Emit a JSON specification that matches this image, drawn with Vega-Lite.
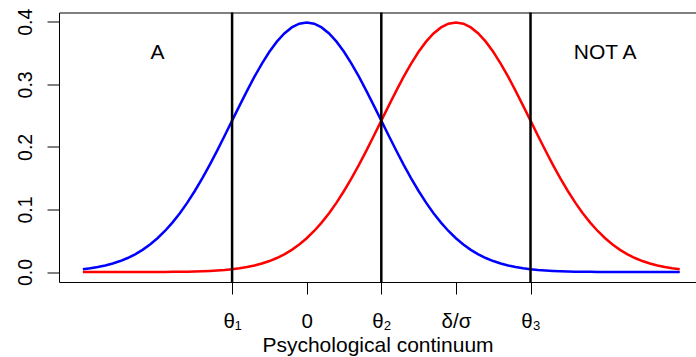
{
  "$schema": "https://vega.github.io/schema/vega-lite/v6.json",
  "autosize": {"type": "none"},
  "padding": {"left": 59, "top": 12.5, "right": 0, "bottom": 75},
  "width": 637,
  "height": 269.5,
  "background": "white",
  "config": {
    "view": {"stroke": null},
    "font": "Liberation Sans",
    "axis": {"grid": false, "domainColor": "black", "tickColor": "black", "labelColor": "black", "titleColor": "black", "labelFontWeight": "normal", "titleFontWeight": "normal"}
  },
  "datasets": {
    "curves": [
      {"x": -3.0, "a": 0.00443, "b": 0.0},
      {"x": -2.9, "a": 0.00595, "b": 0.0},
      {"x": -2.8, "a": 0.00792, "b": 0.0},
      {"x": -2.7, "a": 0.01042, "b": 0.0},
      {"x": -2.6, "a": 0.01358, "b": 0.00001},
      {"x": -2.5, "a": 0.01753, "b": 0.00002},
      {"x": -2.4, "a": 0.02239, "b": 0.00002},
      {"x": -2.3, "a": 0.02833, "b": 0.00004},
      {"x": -2.2, "a": 0.03547, "b": 0.00006},
      {"x": -2.1, "a": 0.04398, "b": 0.00009},
      {"x": -2.0, "a": 0.05399, "b": 0.00013},
      {"x": -1.9, "a": 0.06562, "b": 0.0002},
      {"x": -1.8, "a": 0.07895, "b": 0.00029},
      {"x": -1.7, "a": 0.09405, "b": 0.00042},
      {"x": -1.6, "a": 0.11092, "b": 0.00061},
      {"x": -1.5, "a": 0.12952, "b": 0.00087},
      {"x": -1.4, "a": 0.14973, "b": 0.00123},
      {"x": -1.3, "a": 0.17137, "b": 0.00172},
      {"x": -1.2, "a": 0.19419, "b": 0.00238},
      {"x": -1.1, "a": 0.21785, "b": 0.00327},
      {"x": -1.0, "a": 0.24197, "b": 0.00443},
      {"x": -0.9, "a": 0.26609, "b": 0.00595},
      {"x": -0.8, "a": 0.28969, "b": 0.00792},
      {"x": -0.7, "a": 0.31225, "b": 0.01042},
      {"x": -0.6, "a": 0.33322, "b": 0.01358},
      {"x": -0.5, "a": 0.35207, "b": 0.01753},
      {"x": -0.4, "a": 0.36827, "b": 0.02239},
      {"x": -0.3, "a": 0.38139, "b": 0.02833},
      {"x": -0.2, "a": 0.39104, "b": 0.03547},
      {"x": -0.1, "a": 0.39695, "b": 0.04398},
      {"x": 0.0, "a": 0.39894, "b": 0.05399},
      {"x": 0.1, "a": 0.39695, "b": 0.06562},
      {"x": 0.2, "a": 0.39104, "b": 0.07895},
      {"x": 0.3, "a": 0.38139, "b": 0.09405},
      {"x": 0.4, "a": 0.36827, "b": 0.11092},
      {"x": 0.5, "a": 0.35207, "b": 0.12952},
      {"x": 0.6, "a": 0.33322, "b": 0.14973},
      {"x": 0.7, "a": 0.31225, "b": 0.17137},
      {"x": 0.8, "a": 0.28969, "b": 0.19419},
      {"x": 0.9, "a": 0.26609, "b": 0.21785},
      {"x": 1.0, "a": 0.24197, "b": 0.24197},
      {"x": 1.1, "a": 0.21785, "b": 0.26609},
      {"x": 1.2, "a": 0.19419, "b": 0.28969},
      {"x": 1.3, "a": 0.17137, "b": 0.31225},
      {"x": 1.4, "a": 0.14973, "b": 0.33322},
      {"x": 1.5, "a": 0.12952, "b": 0.35207},
      {"x": 1.6, "a": 0.11092, "b": 0.36827},
      {"x": 1.7, "a": 0.09405, "b": 0.38139},
      {"x": 1.8, "a": 0.07895, "b": 0.39104},
      {"x": 1.9, "a": 0.06562, "b": 0.39695},
      {"x": 2.0, "a": 0.05399, "b": 0.39894},
      {"x": 2.1, "a": 0.04398, "b": 0.39695},
      {"x": 2.2, "a": 0.03547, "b": 0.39104},
      {"x": 2.3, "a": 0.02833, "b": 0.38139},
      {"x": 2.4, "a": 0.02239, "b": 0.36827},
      {"x": 2.5, "a": 0.01753, "b": 0.35207},
      {"x": 2.6, "a": 0.01358, "b": 0.33322},
      {"x": 2.7, "a": 0.01042, "b": 0.31225},
      {"x": 2.8, "a": 0.00792, "b": 0.28969},
      {"x": 2.9, "a": 0.00595, "b": 0.26609},
      {"x": 3.0, "a": 0.00443, "b": 0.24197},
      {"x": 3.1, "a": 0.00327, "b": 0.21785},
      {"x": 3.2, "a": 0.00238, "b": 0.19419},
      {"x": 3.3, "a": 0.00172, "b": 0.17137},
      {"x": 3.4, "a": 0.00123, "b": 0.14973},
      {"x": 3.5, "a": 0.00087, "b": 0.12952},
      {"x": 3.6, "a": 0.00061, "b": 0.11092},
      {"x": 3.7, "a": 0.00042, "b": 0.09405},
      {"x": 3.8, "a": 0.00029, "b": 0.07895},
      {"x": 3.9, "a": 0.0002, "b": 0.06562},
      {"x": 4.0, "a": 0.00013, "b": 0.05399},
      {"x": 4.1, "a": 0.00009, "b": 0.04398},
      {"x": 4.2, "a": 0.00006, "b": 0.03547},
      {"x": 4.3, "a": 0.00004, "b": 0.02833},
      {"x": 4.4, "a": 0.00002, "b": 0.02239},
      {"x": 4.5, "a": 0.00002, "b": 0.01753},
      {"x": 4.6, "a": 0.00001, "b": 0.01358},
      {"x": 4.7, "a": 0.00001, "b": 0.01042},
      {"x": 4.8, "a": 0.0, "b": 0.00792},
      {"x": 4.9, "a": 0.0, "b": 0.00595},
      {"x": 5.0, "a": 0.0, "b": 0.00443}
    ],
    "thresholds": [{"x": -1}, {"x": 1}, {"x": 3}],
    "notes": [{"x": -2, "y": 0.35, "label": "A"}, {"x": 4, "y": 0.35, "label": "NOT A"}]
  },
  "layer": [
    {
      "data": {"name": "curves"},
      "mark": {"type": "line", "color": "#0000FF", "strokeWidth": 2.5},
      "encoding": {
        "x": {"field": "x", "type": "quantitative", "scale": {"domain": [-3.32, 5.218], "nice": false, "zero": false},
          "axis": {"orient": "bottom", "values": [-1, 0, 1, 2, 3], "labelExpr": "datum.value == -1 ? 'θ₁' : datum.value == 0 ? '0' : datum.value == 1 ? 'θ₂' : datum.value == 2 ? 'δ/σ' : 'θ₃'", "tickSize": 12, "labelPadding": 17, "labelFontSize": 20.5, "labelBaseline": "top", "labelFlush": false, "title": "Psychological continuum", "titleFontSize": 21, "titlePadding": 3, "domainWidth": 1}},
        "y": {"field": "a", "type": "quantitative", "scale": {"domain": [-0.01596, 0.4149], "nice": false, "zero": false},
          "axis": {"values": [0, 0.1, 0.2, 0.3, 0.4], "format": ".1f", "labelAngle": -90, "labelAlign": "center", "labelBaseline": "bottom", "tickSize": 12, "labelPadding": 12, "labelFontSize": 19.5, "labelFlush": false, "title": null, "domainWidth": 1}}
      }
    },
    {
      "data": {"name": "curves"},
      "mark": {"type": "line", "color": "#FF0000", "strokeWidth": 2.5},
      "encoding": {
        "x": {"field": "x", "type": "quantitative", "axis": null},
        "y": {"field": "b", "type": "quantitative"}
      }
    },
    {
      "data": {"name": "thresholds"},
      "mark": {"type": "rule", "color": "black", "strokeWidth": 2.5},
      "encoding": {
        "x": {"field": "x", "type": "quantitative", "axis": {"orient": "top", "labels": false, "ticks": false, "title": null, "domain": true, "domainColor": "black", "domainWidth": 1}}
      }
    },
    {
      "data": {"name": "notes"},
      "mark": {"type": "text", "fontSize": 21, "color": "black", "font": "Liberation Sans"},
      "encoding": {
        "x": {"field": "x", "type": "quantitative", "axis": null},
        "y": {"field": "y", "type": "quantitative"},
        "text": {"field": "label"}
      }
    }
  ],
  "resolve": {"axis": {"x": "independent"}}
}
